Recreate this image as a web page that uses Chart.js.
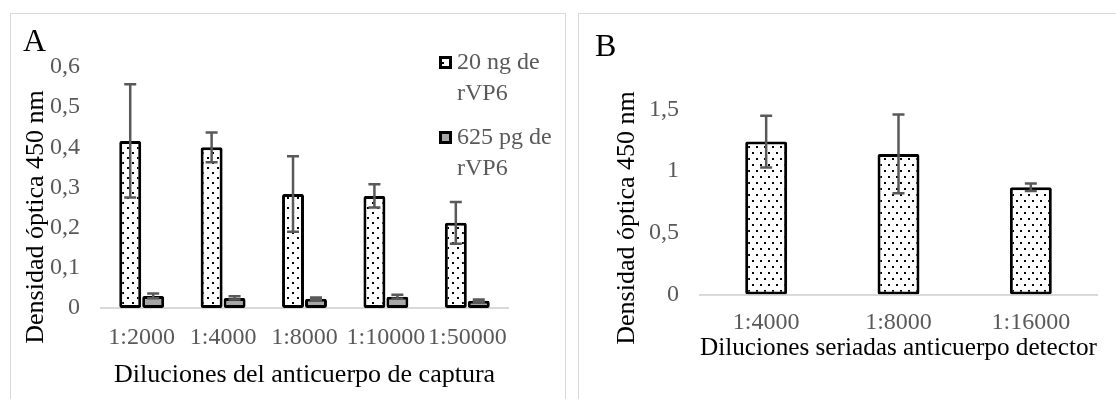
<!DOCTYPE html>
<html><head><meta charset="utf-8">
<script src="https://cdn.jsdelivr.net/npm/chart.js@4.4.1/dist/chart.umd.min.js"></script>
<style>
html,body{margin:0;padding:0;background:#fff;}
#wrap{position:relative;width:1116px;height:399px;overflow:hidden;background:#fff;}
.panel{position:absolute;border:1px solid #d9d9d9;box-sizing:border-box;}
.cv{position:absolute;top:0;}
</style></head><body>
<div id="wrap">
<div class="panel" style="left:10px;top:13px;width:556px;height:420px;"></div>
<div class="panel" style="left:578px;top:13px;width:560px;height:420px;"></div>
<canvas id="cA" class="cv" style="left:0px" width="570" height="399"></canvas>
<canvas id="cB" class="cv" style="left:570px" width="546" height="399"></canvas>
</div>
<script>
// ---------- data ----------
const categoriesA = ['1:2000', '1:4000', '1:8000', '1:10000', '1:50000'];
const seriesNamesA = ['20 ng de rVP6', '625 pg de rVP6'];
const valuesA20 = [0.416, 0.400, 0.284, 0.279, 0.212];
const errorsA20 = [0.141, 0.037, 0.094, 0.029, 0.052];
const valuesA625 = [0.030, 0.025, 0.023, 0.028, 0.018];
const errorsA625 = [0.006, 0.004, 0.003, 0.005, 0.003];
const yTicksA = [0, 0.1, 0.2, 0.3, 0.4, 0.5, 0.6];

const categoriesB = ['1:4000', '1:8000', '1:16000'];
const valuesB = [1.24, 1.14, 0.87];
const errorsB = [0.21, 0.32, 0.03];
const yTicksB = [0, 0.5, 1, 1.5];

const titleAX = 'Diluciones del anticuerpo de captura';
const titleBX = 'Diluciones seriadas anticuerpo detector';
const titleY = 'Densidad óptica 450 nm';

// ---------- styles ----------
const SERIF = '"Liberation Serif", "Times New Roman", serif';
Chart.defaults.font.family = SERIF;
const TICK_COLOR = '#595959';

function dotPattern(w, h, dots) {
  const c = document.createElement('canvas');
  c.width = w; c.height = h;
  const g = c.getContext('2d');
  g.fillStyle = '#fff'; g.fillRect(0, 0, w, h);
  g.fillStyle = '#000';
  dots.forEach(d => g.fillRect(d[0], d[1], 2, 2));
  return g.createPattern(c, 'repeat');
}
const patA = dotPattern(10, 10, [[2, 2], [7, 7]]);
const patB = dotPattern(8, 12, [[2, 2], [6, 8]]);

function fmtComma(v) {
  return String(Number(v.toFixed(2))).replace('.', ',');
}

const errorBarPlugin = {
  id: 'errbars',
  afterDatasetsDraw(chart) {
    const ctx = chart.ctx, ys = chart.scales.y;
    chart.data.datasets.forEach((ds, di) => {
      if (!ds.errors) return;
      const meta = chart.getDatasetMeta(di);
      meta.data.forEach((el, i) => {
        const v = ds.data[i], e = ds.errors[i];
        const x = el.x;
        const yt = ys.getPixelForValue(v + e), yb = ys.getPixelForValue(v - e);
        ctx.save();
        ctx.strokeStyle = '#595959';
        ctx.lineWidth = 2.5;
        ctx.beginPath();
        ctx.moveTo(x, yt); ctx.lineTo(x, yb);
        ctx.moveTo(x - 6, yt); ctx.lineTo(x + 6, yt);
        ctx.moveTo(x - 6, yb); ctx.lineTo(x + 6, yb);
        ctx.stroke();
        ctx.restore();
      });
    });
  }
};

function textPlugin(items) {
  return {
    id: 'texts',
    afterDraw(chart) {
      const ctx = chart.ctx;
      items.forEach(t => {
        ctx.save();
        ctx.translate(t.x, t.y);
        if (t.rot) ctx.rotate(t.rot);
        ctx.font = t.font;
        ctx.fillStyle = t.color;
        ctx.textAlign = t.align || 'center';
        ctx.textBaseline = 'middle';
        ctx.fillText(t.text, 0, 0);
        ctx.restore();
      });
    }
  };
}

const legendPluginA = {
  id: 'legendA',
  afterDraw(chart) {
    const ctx = chart.ctx;
    const tops = [63, 138];
    ctx.save();
    ctx.font = '24px ' + SERIF;
    chart.data.datasets.forEach((ds, i) => {
      const words = ds.label.split(' ');
      const lines = [];
      let cur = '';
      words.forEach(w => {
        const test = cur ? cur + ' ' + w : w;
        if (ctx.measureText(test).width > 100 && cur) { lines.push(cur); cur = w; }
        else cur = test;
      });
      lines.push(cur);
      const y0 = tops[i];
      ctx.fillStyle = '#000';
      ctx.fillRect(439, y0 - 7, 13, 13);
      ctx.fillStyle = ds.backgroundColor;
      ctx.fillRect(442, y0 - 4, 7, 7);
      ctx.fillStyle = TICK_COLOR;
      ctx.textAlign = 'left';
      ctx.textBaseline = 'middle';
      lines.forEach((ln, k) => ctx.fillText(ln, 457, y0 + k * 31));
    });
    ctx.restore();
  }
};

function yScale(ticks, width) {
  return {
    min: ticks[0], max: ticks[ticks.length - 1],
    afterBuildTicks(s) { s.ticks = ticks.map(v => ({ value: v })); },
    afterFit(s) { s.width = width; },
    grid: { display: false, drawTicks: false },
    border: { display: false },
    ticks: {
      color: TICK_COLOR, padding: 21,
      font: { size: 24, lineHeight: 1 },
      callback: v => fmtComma(v)
    }
  };
}
function xScale(title, tickPad, titlePadTop, align) {
  return {
    grid: { display: false, drawTicks: false },
    border: { display: true, color: '#d9d9d9', width: 2 },
    ticks: { color: TICK_COLOR, padding: tickPad, autoSkip: false, maxRotation: 0,
      font: { size: 24, lineHeight: 1 } },
    title: { display: true, text: title, color: '#000', align: align,
      font: { size: 26, lineHeight: 1 }, padding: { top: titlePadTop, bottom: 4 } }
  };
}

// ---------- chart A ----------
new Chart(document.getElementById('cA'), {
  type: 'bar',
  data: {
    labels: categoriesA,
    datasets: [
      { label: seriesNamesA[0], data: valuesA20, errors: errorsA20,
        backgroundColor: patA, borderColor: '#000', borderWidth: 3,
        borderSkipped: false, borderRadius: 2,
        barPercentage: 0.957, categoryPercentage: 0.564 },
      { label: seriesNamesA[1], data: valuesA625, errors: errorsA625,
        backgroundColor: '#a6a6a6', borderColor: '#000', borderWidth: 3,
        borderSkipped: false, borderRadius: 2,
        barPercentage: 0.957, categoryPercentage: 0.564 }
    ]
  },
  options: {
    responsive: false, animation: false,
    layout: { padding: { top: 67, right: 62, bottom: 7, left: 0 } },
    plugins: { legend: { display: false }, tooltip: { enabled: false }, title: { display: false } },
    scales: { x: xScale(titleAX, 18, -6, 'center'), y: yScale(yTicksA, 101) }
  },
  plugins: [errorBarPlugin, legendPluginA, textPlugin([
    { text: 'A', x: 23, y: 43, font: '32px ' + SERIF, color: '#000', align: 'left' },
    { text: titleY, x: 36, y: 217, rot: -Math.PI / 2, font: '26px ' + SERIF, color: '#000' }
  ])]
});

// ---------- chart B ----------
new Chart(document.getElementById('cB'), {
  type: 'bar',
  data: {
    labels: categoriesB,
    datasets: [
      { label: 'B', data: valuesB, errors: errorsB,
        backgroundColor: patB, borderColor: '#000', borderWidth: 3,
        borderSkipped: false, borderRadius: 2,
        barPercentage: 1, categoryPercentage: 0.317 }
    ]
  },
  options: {
    responsive: false, animation: false,
    layout: { padding: { top: 109.5, right: 19, bottom: 34, left: 0 } },
    plugins: { legend: { display: false }, tooltip: { enabled: false }, title: { display: false } },
    scales: { x: xScale(titleBX, 16.5, -16.5, 'end'), y: yScale(yTicksB, 130) }
  },
  plugins: [errorBarPlugin, textPlugin([
    { text: 'B', x: 25, y: 48, font: '32px ' + SERIF, color: '#000', align: 'left' },
    { text: titleY, x: 57, y: 218, rot: -Math.PI / 2, font: '26px ' + SERIF, color: '#000' }
  ])]
});
</script>
</body></html>
